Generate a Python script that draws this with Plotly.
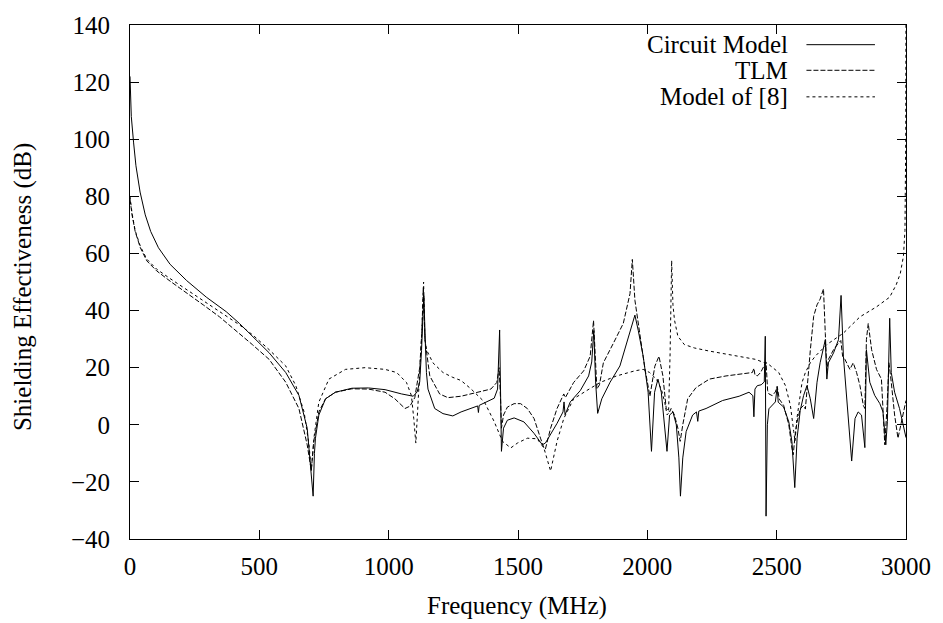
import plotly.graph_objects as go

# ---------------- data (frequency MHz, shielding effectiveness dB) ----------------
circuit_points = [
    (0, 122), (5, 108), (14, 98.7), (23, 90.7), (39, 81.5), (59, 73.5), (80, 67.7), (110, 62),
    (155, 56.2), (219, 50.5), (295, 44.7), (346, 41.5), (372, 39.6), (423, 35.5), (474, 31),
    (538, 25.2), (602, 18.3), (653, 10.3), (685, -1.2), (700, -15), (708, -25), (713, -10),
    (717, -4.7), (730, 3.4), (756, 9.1), (794, 11.4), (858, 12.8), (922, 12.9), (986, 12.3),
    (1050, 10.8), (1082, 10.2), (1095, 10), (1110, 11.5), (1120, 15), (1127, 26), (1136, 45.3),
    (1142, 28), (1146, 18.3), (1152, 12.5), (1171, 8), (1178, 5.7), (1210, 3.9), (1248, 3.1),
    (1280, 4.5), (1344, 6.6), (1347, 4.3), (1350, 6.8), (1408, 9.3), (1421, 12.5), (1429, 33.2),
    (1433, 5.7), (1436, -9.3), (1444, -1.2), (1459, 1.6), (1485, 2.4), (1523, 1.0), (1562, -3),
    (1594, -7), (1606, -6.4), (1626, -3.5), (1651, 0.5), (1674, 4.5), (1678, 8), (1682, 3.5),
    (1702, 8), (1741, 12), (1773, 17.1), (1785, 22), (1793, 33), (1800, 15), (1808, 4),
    (1824, 9.1), (1856, 14.9), (1894, 20.6), (1920, 29), (1935, 33), (1952, 38.4), (1965, 33),
    (1984, 24), (2003, 11.4), (2016, -9.3), (2028, 11.4), (2041, 16), (2054, 11.4), (2067, 0),
    (2076, -9.3), (2086, 3.4), (2099, 4.5), (2112, 0), (2122, -11.6), (2128, -25), (2137, -11.6),
    (2150, -2.4), (2175, 3.4), (2190, 4.5), (2195, 1.2), (2199, 4.8), (2227, 5.7), (2291, 8.5),
    (2355, 10), (2393, 11.4), (2408, 10.2), (2412, 2.8), (2416, 12.5), (2425, 13.7), (2440, 14),
    (2452, 15), (2456, 31), (2459, -32), (2464, 0), (2470, 5.6), (2483, 6.8), (2495, 8),
    (2502, 13.1), (2506, 7.9), (2527, 6.2), (2547, 1), (2559, -5.9), (2570, -22), (2579, -4.7),
    (2591, 5), (2604, 10.2), (2617, 13.7), (2630, 9.1), (2643, 2.2), (2656, 14.9), (2668, 21.7),
    (2688, 29.8), (2694, 16), (2700, 21.7), (2720, 25.2), (2739, 29.8), (2749, 45.3), (2758, 24),
    (2771, 9.1), (2781, -2.4), (2790, -12.7), (2803, 2.2), (2815, 4.5), (2828, 3.4), (2841, -8),
    (2847, 26.3), (2860, 14.9), (2879, 10.3), (2899, 7.4), (2911, 4.5), (2922, -7), (2928, 1.1),
    (2937, 37.3), (2943, 18.3), (2956, 11.4), (2975, 5.7), (2990, 0), (3000, -4.5),
]

tlm_points = [
    (0, 79), (8, 73.5), (20, 67.7), (40, 62), (65, 57.4), (103, 53.9), (155, 50.3), (219, 46),
    (283, 42), (346, 37.8), (410, 33), (474, 28), (538, 22.9), (602, 14.9), (653, 5.7),
    (685, -7), (701, -16), (710, -6), (717, -2.4), (730, 4.5), (756, 9.1), (794, 11.4),
    (858, 12.6), (922, 12.5), (986, 11.4), (1024, 9.1), (1063, 5.7), (1082, 6.5), (1101, 9.5),
    (1120, 20), (1128, 32), (1134, 48), (1140, 30), (1150, 22), (1159, 17.1), (1197, 10.8),
    (1229, 9.5), (1280, 10), (1344, 11.4), (1395, 12.5), (1418, 14.8), (1427, 20), (1433, 8),
    (1436, -1.2), (1444, 3.4), (1459, 6.2), (1485, 7.4), (1510, 7.4), (1536, 5.7), (1562, 2.2),
    (1587, -4.7), (1600, -8.1), (1606, -8.5), (1626, -1.2), (1651, 5.7), (1677, 10.8),
    (1683, 9.5), (1715, 14.8), (1754, 18.9), (1779, 24), (1792, 36.5), (1800, 18), (1805, 12.5),
    (1815, 14), (1830, 21.7), (1869, 28.6), (1907, 35.5), (1933, 45.9), (1942, 57.9),
    (1952, 43.6), (1971, 30.9), (1990, 20), (2010, 10), (2020, 15), (2029, 20.5), (2045, 24),
    (2060, 17.2), (2073, 5.7), (2086, 4.5), (2092, 5.7), (2105, 3.4), (2118, -1.2), (2127, -5.8),
    (2137, 0), (2156, 9.1), (2188, 13), (2240, 16), (2304, 17.1), (2367, 17.7), (2406, 18.3),
    (2412, 19.8), (2416, 17.5), (2425, 17.1), (2438, 18.3), (2451, 20.6), (2459, 22), (2465, 12),
    (2470, 10.8), (2483, 10.2), (2495, 11.5), (2502, 13.5), (2510, 9), (2527, 6.8), (2547, 0),
    (2559, -8.2), (2564, -10.5), (2572, -3), (2579, 1), (2591, 5.6), (2604, 6.8), (2611, 5.5),
    (2620, 16), (2630, 26), (2643, 38), (2656, 42), (2668, 44), (2681, 47.6), (2688, 32),
    (2694, 19), (2700, 22.9), (2720, 26.3), (2739, 28.6), (2748, 29.5), (2755, 24), (2764, 22.9),
    (2783, 19.4), (2796, 21.7), (2809, 18.3), (2822, 13.7), (2835, 6.8), (2841, 5.7),
    (2847, 29.8), (2854, 35.5), (2867, 26.3), (2886, 19.4), (2905, 16), (2911, 6.8), (2918, -7),
    (2927, 6.8), (2934, 21.7), (2943, 14.9), (2956, 3.4), (2969, -4.7), (2988, 3.4), (3000, 8.5),
]

model8_points = [
    (0, 80), (8, 74), (20, 68), (40, 62.5), (65, 58), (103, 54.5), (155, 51.2), (219, 47.3),
    (283, 43.3), (346, 39.6), (423, 35), (474, 31.5), (538, 26.3), (602, 20.6), (641, 13.7),
    (673, 4.5), (692, -7), (701, -16), (712, -4), (730, 7.9), (769, 16), (833, 19.4), (909, 20),
    (986, 19.4), (1031, 18.3), (1069, 14.8), (1088, 10.2), (1097, 2.2), (1105, -6.4), (1112, 5),
    (1120, 18), (1128, 32), (1135, 50), (1140, 30), (1146, 26.3), (1171, 21.7), (1210, 18.3),
    (1248, 16.6), (1280, 15.5), (1319, 12.5), (1370, 8), (1408, 1.1), (1440, -5.8), (1472, -8.1),
    (1498, -6.4), (1536, -4.7), (1574, -4.9), (1600, -8.1), (1626, -16.2), (1651, -5.8),
    (1677, 2.2), (1715, 9.1), (1766, 12), (1817, 14.8), (1881, 17.1), (1952, 18.9), (1984, 19.4),
    (2009, 18.3), (2035, 16), (2054, 12.5), (2067, 8), (2076, 3.5), (2082, 4), (2088, 25),
    (2094, 57.5), (2099, 42), (2105, 36.7), (2118, 31), (2143, 28.1), (2182, 26.9), (2240, 25.8),
    (2316, 24.6), (2367, 23.8), (2419, 22.9), (2470, 21.1), (2508, 18.3), (2534, 13.7),
    (2553, 6.8), (2566, -2.4), (2571, -5.8), (2578, 2), (2585, 6.8), (2598, 14.8), (2611, 18.3),
    (2630, 21.7), (2649, 24), (2694, 28.1), (2758, 32.1), (2822, 37.8), (2886, 41.3),
    (2937, 44.7), (2962, 49), (2978, 53), (2990, 59), (2996, 68), (2999, 100), (3000, 150),
]

series_names = ["Circuit Model", "TLM", "Model of [8]"]
series_dash = ["solid", "5px,2px", "3px,3px"]
x_ticks = [0, 500, 1000, 1500, 2000, 2500, 3000]
y_ticks = [-40, -20, 0, 20, 40, 60, 80, 100, 120, 140]

FONT = "Liberation Serif"
FS = 25

fig = go.Figure()
for name, pts, dash in zip(series_names, [circuit_points, tlm_points, model8_points], series_dash):
    fig.add_trace(go.Scatter(
        x=[p[0] for p in pts], y=[p[1] for p in pts], mode="lines", name=name,
        line=dict(color="black", width=1, dash=dash), showlegend=False,
    ))

axis_common = dict(
    showline=True, linecolor="black", linewidth=1, mirror="ticks",
    ticks="inside", ticklen=9, tickcolor="black", tickwidth=1,
    showgrid=False, zeroline=False,
    tickfont=dict(family=FONT, size=FS, color="black"),
)
fig.update_xaxes(range=[0, 3000], tickvals=x_ticks, ticklabelstandoff=5, **axis_common)
fig.update_yaxes(range=[-40, 140], tickvals=y_ticks, ticklabelstandoff=14, **axis_common)

# manual legend (text right-aligned, sample line to the right as in gnuplot)
leg_y = [0.9617, 0.9119, 0.8602]
shapes = []
annotations = []
for name, dash, yy in zip(series_names, series_dash, leg_y):
    annotations.append(dict(x=0.850, y=yy, xref="paper", yref="paper", text=name,
                            showarrow=False, xanchor="right", yanchor="middle",
                            font=dict(family=FONT, size=FS, color="black")))
    shapes.append(dict(type="line", xref="paper", yref="paper", x0=0.8717, x1=0.960,
                       y0=yy, y1=yy, line=dict(color="black", width=1, dash=dash)))

annotations.append(dict(x=0.4985, y=-0.130, xref="paper", yref="paper", text="Frequency (MHz)",
                        showarrow=False, xanchor="center", yanchor="middle",
                        font=dict(family=FONT, size=FS, color="black")))
annotations.append(dict(x=-0.138, y=0.49, xref="paper", yref="paper",
                        text="Shielding Effectiveness (dB)", textangle=-90,
                        showarrow=False, xanchor="center", yanchor="middle",
                        font=dict(family=FONT, size=FS, color="black")))

fig.update_layout(
    width=943, height=623,
    margin=dict(l=130, r=31, t=17, b=84),
    paper_bgcolor="white", plot_bgcolor="white",
    shapes=shapes, annotations=annotations,
    font=dict(family=FONT, size=FS, color="black"),
)

fig.write_html("out.html")
